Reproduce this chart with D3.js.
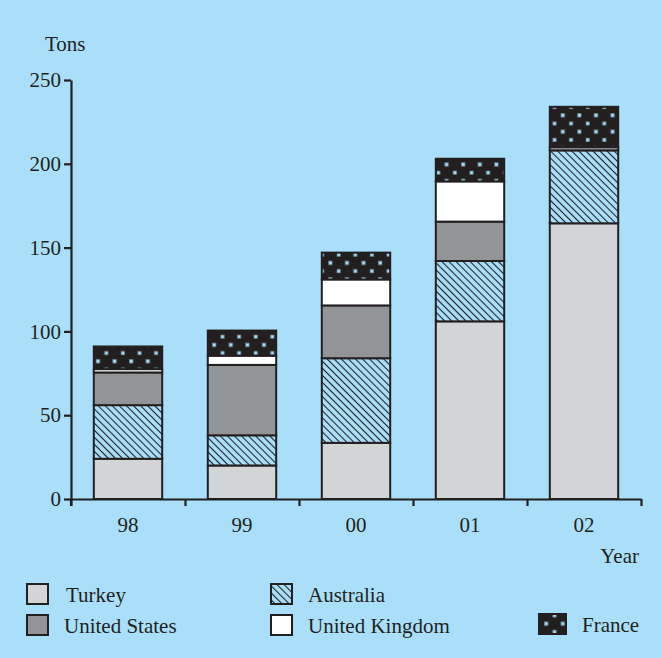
<!DOCTYPE html>
<html><head><meta charset="utf-8">
<script src="https://cdn.jsdelivr.net/npm/d3@7"></script>
<style>
html,body{margin:0;padding:0;background:#a9dff9;}
svg{display:block;}
text{font-family:"Liberation Serif","Times New Roman",serif;fill:#231f20;}
</style></head>
<body>
<svg id="chart" width="661" height="658"></svg>
<script>
const years = ["98","99","00","01","02"];
const seriesNames = ["Turkey","Australia","United States","United Kingdom","France"];
const turkey = [24, 20, 33.5, 106, 164.5];
const australia = [32, 18, 50.5, 36, 43.5];
const unitedStates = [19.5, 42, 31.5, 23.5, 2];
const unitedKingdom = [2, 5.5, 15.5, 24, 0];
const france = [13.5, 15, 16, 13.5, 24];
const yTicks = [0, 50, 100, 150, 200, 250];

const dataRows = years.map((yr, i) => ({
  year: yr,
  "Turkey": turkey[i],
  "Australia": australia[i],
  "United States": unitedStates[i],
  "United Kingdom": unitedKingdom[i],
  "France": france[i]
}));

const svg = d3.select("#chart");
const ink = "#231f20";
const bg = "#a9dff9";

const defs = svg.append("defs");
const hatch = defs.append("pattern").attr("id","hatch").attr("patternUnits","userSpaceOnUse")
  .attr("width",5).attr("height",5).attr("patternTransform","rotate(45)");
hatch.append("rect").attr("width",5).attr("height",5).attr("fill",bg);
hatch.append("line").attr("x1",0).attr("x2",5).attr("y1",2.5).attr("y2",2.5).attr("stroke",ink).attr("stroke-width",1.1);

const dots = defs.append("pattern").attr("id","dots").attr("patternUnits","userSpaceOnUse")
  .attr("width",16.6).attr("height",16.4).attr("x",3).attr("y",5);
dots.append("rect").attr("width",16.6).attr("height",16.4).attr("fill",ink);
dots.append("rect").attr("x",2).attr("y",2).attr("width",3.4).attr("height",3.4).attr("fill","#a8def7").attr("stroke","#6d8c9c").attr("stroke-width",0.6);
dots.append("rect").attr("x",10.3).attr("y",10.2).attr("width",3.4).attr("height",3.4).attr("fill","#a8def7").attr("stroke","#6d8c9c").attr("stroke-width",0.6);

const fills = {
  "Turkey": "#d3d4d5",
  "Australia": "url(#hatch)",
  "United States": "#929497",
  "United Kingdom": "#ffffff",
  "France": "url(#dots)"
};

const mLeft = 71, mRight = 641, mTop = 80, mBottom = 499;
const x = d3.scaleBand().domain(years).range([mLeft, mRight]).paddingInner(0.4).paddingOuter(0.2);
const xSlots = d3.scaleLinear().domain([0, years.length]).range([mLeft, mRight]);
const y = d3.scaleLinear().domain([0, 250]).range([mBottom, mTop]);

const stack = d3.stack().keys(seriesNames);
const layers = stack(dataRows);

const g = svg.append("g");
layers.forEach(layer => {
  g.append("g").selectAll("rect").data(layer.filter(d => d[1] - d[0] > 0)).join("rect")
    .attr("x", d => x(d.data.year))
    .attr("width", x.bandwidth())
    .attr("y", d => y(d[1]))
    .attr("height", d => y(d[0]) - y(d[1]))
    .attr("fill", fills[layer.key])
    .attr("stroke", ink)
    .attr("stroke-width", 2);
});

// Y axis
const yAxis = svg.append("g").attr("transform", `translate(${mLeft},0)`)
  .call(d3.axisLeft(y).tickValues(yTicks).tickSize(7).tickSizeOuter(0).tickPadding(3));
yAxis.select(".domain").attr("stroke", ink).attr("stroke-width", 2.2);
yAxis.selectAll(".tick line").attr("stroke", ink).attr("stroke-width", 2.2);
yAxis.selectAll(".tick text").style("font-size","21px").attr("fill", ink).attr("font-family", null);
svg.append("line").attr("x1", mLeft).attr("x2", mLeft).attr("y1", mBottom).attr("y2", mBottom + 7)
  .attr("stroke", ink).attr("stroke-width", 2.2);

// X axis: tick marks at category boundaries
const xAxis = svg.append("g").attr("transform", `translate(0,${mBottom})`)
  .call(d3.axisBottom(xSlots).tickValues(d3.range(0, years.length + 1)).tickSize(7).tickSizeOuter(0).tickFormat(""));
xAxis.select(".domain").attr("stroke", ink).attr("stroke-width", 2.2);
xAxis.selectAll(".tick line").attr("stroke", ink).attr("stroke-width", 2.2);
const xLab = svg.append("g").attr("transform", `translate(0,${mBottom})`)
  .call(d3.axisBottom(x).tickSize(0).tickPadding(18));
xLab.select(".domain").remove();
xLab.selectAll(".tick text").style("font-size","21px").attr("fill", ink).attr("font-family", null);

svg.append("text").attr("x", 45).attr("y", 51).style("font-size","21px").text("Tons");
svg.append("text").attr("x", 639).attr("y", 563).attr("text-anchor","end").style("font-size","21px").text("Year");

// Legend
const legendItems = [
  {name:"Turkey", x:27, y:584, w:21, tx:66},
  {name:"Australia", x:271, y:584, w:21, tx:308},
  {name:"United States", x:27, y:615, w:21, tx:64},
  {name:"United Kingdom", x:271, y:615, w:21, tx:308},
  {name:"France", x:539, y:614, w:27, tx:582}
];
const lg = svg.append("g");
legendItems.forEach(it => {
  lg.append("rect").attr("x", it.x).attr("y", it.y).attr("width", it.w).attr("height", 20)
    .attr("fill", fills[it.name]).attr("stroke", ink).attr("stroke-width", 2);
  lg.append("text").attr("x", it.tx).attr("y", it.y + 18).style("font-size","21px").text(it.name);
});
</script>
</body></html>
